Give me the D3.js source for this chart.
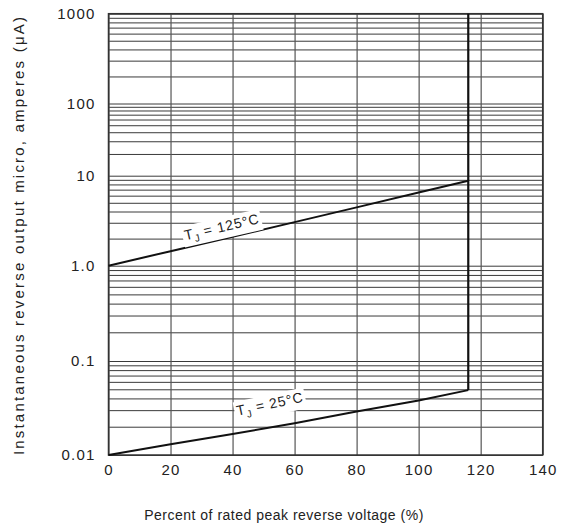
<!DOCTYPE html>
<html>
<head>
<meta charset="utf-8">
<script src="https://cdn.jsdelivr.net/npm/d3@7"></script>
<style>
  body { margin: 0; background: #fff; }
  text { font-family: "Liberation Sans", Arial, sans-serif; fill: #222; }
</style>
</head>
<body>
<svg id="chart" width="562" height="529"></svg>
<script>
// chart values
const xTicks = [0, 20, 40, 60, 80, 100, 120, 140];
const yDecades = [0.01, 0.1, 1, 10, 100, 1000];
const yLabels = ['0.01', '0.1', '1.0', '10', '100', '1000'];

const pct125 = [0, 20, 40, 60, 80, 100, 116];
const ir125 = [1.0, 1.45, 2.1, 3.05, 4.45, 6.5, 8.8];
const pct25 = [0, 20, 40, 60, 80, 100, 116];
const ir25 = [0.01, 0.013, 0.0167, 0.0218, 0.029, 0.038, 0.049];
const breakdownPct = 116;

const curveLabels = [
  { temp: '125°C', x: 36.5, y: 2.7, angle: -13 },
  { temp: '25°C', x: 52, y: 0.035, angle: -12 }
];

const svg = d3.select('#chart');
const margin = { left: 108.5, top: 13.7, right: 19.3, bottom: 74 },
  width = 562, height = 529;
const plotBottom = height - margin.bottom;

const xScale = d3.scaleLinear()
  .domain([0, 140])
  .range([margin.left, width - margin.right]);

// the scanned sheet has uneven decades, so the log scale is piecewise
const yScale = d3.scaleLog()
  .domain(yDecades)
  .range([plotBottom, 361, 265.7, 175.7, 103.5, margin.top]);

// every 1..9 step inside each decade gets a grid line
const minorTicks = [];
yDecades.slice(0, -1).forEach(d => {
  for (let k = 1; k < 10; k++) minorTicks.push(k * d);
});
minorTicks.push(1000);

// horizontal grid + y labels
const yAxis = svg.append('g')
  .attr('transform', `translate(${margin.left},0)`)
  .call(d3.axisLeft(yScale)
    .tickValues(minorTicks)
    .tickSize(-(xScale(140) - margin.left))
    .tickPadding(13)
    .tickFormat(d => {
      const i = yDecades.findIndex(v => Math.abs(v - d) < d * 1e-6);
      return i >= 0 ? yLabels[i] : '';
    }));
yAxis.select('.domain').remove();
yAxis.selectAll('.tick line').attr('stroke', '#3a3a3a').attr('stroke-width', 1);
yAxis.selectAll('.tick text')
  .attr('font-size', 15).attr('letter-spacing', 1.2).attr('fill', '#222');

// vertical grid + x labels
const xAxis = svg.append('g')
  .attr('transform', `translate(0,${plotBottom})`)
  .call(d3.axisBottom(xScale)
    .tickValues(xTicks)
    .tickSize(-(plotBottom - margin.top))
    .tickPadding(9));
xAxis.select('.domain').remove();
xAxis.selectAll('.tick line').attr('stroke', '#555').attr('stroke-width', 1.2);
xAxis.selectAll('.tick text')
  .attr('font-size', 15).attr('letter-spacing', 1.2).attr('fill', '#222');

// frame
svg.append('rect')
  .attr('x', margin.left).attr('y', margin.top)
  .attr('width', xScale(140) - margin.left)
  .attr('height', plotBottom - margin.top)
  .attr('fill', 'none').attr('stroke', '#333').attr('stroke-width', 1.5);

// curves
const line = d3.line()
  .x(d => xScale(d[0]))
  .y(d => yScale(d[1]));

svg.append('path')
  .attr('d', line(d3.zip(pct125, ir125)))
  .attr('fill', 'none').attr('stroke', '#111').attr('stroke-width', 2);

svg.append('path')
  .attr('d', line(d3.zip(pct25, ir25)))
  .attr('fill', 'none').attr('stroke', '#111').attr('stroke-width', 2);

// breakdown: vertical rise at the end of the rated range
svg.append('path')
  .attr('d', line([[breakdownPct, ir25[ir25.length - 1]], [breakdownPct, 1000]]))
  .attr('fill', 'none').attr('stroke', '#111').attr('stroke-width', 2.2);

// curve labels with white knock-out behind them
curveLabels.forEach(l => {
  const g = svg.append('g')
    .attr('transform', `translate(${xScale(l.x)},${yScale(l.y)}) rotate(${l.angle})`);
  const bg = g.append('rect').attr('fill', '#fff');
  const t = g.append('text')
    .attr('text-anchor', 'middle')
    .attr('dy', '0.35em')
    .attr('font-size', 14)
    .attr('letter-spacing', 0.8);
  t.append('tspan').text('T');
  t.append('tspan').attr('font-size', 10).attr('dy', 4).text('J');
  t.append('tspan').attr('dy', -4).text(' = ' + l.temp);
  const b = t.node().getBBox();
  bg.attr('x', b.x - 2).attr('y', b.y - 1)
    .attr('width', b.width + 4).attr('height', b.height + 2);
});

// axis titles
svg.append('text')
  .attr('x', 284)
  .attr('y', 520)
  .attr('text-anchor', 'middle')
  .attr('font-size', 14)
  .attr('letter-spacing', 0.5)
  .text('Percent of rated peak reverse voltage (%)');

svg.append('text')
  .attr('transform', `translate(24,235) rotate(-90)`)
  .attr('text-anchor', 'middle')
  .attr('font-size', 15)
  .attr('letter-spacing', 2.2)
  .text('Instantaneous reverse output micro, amperes (μA)');
</script>
</body>
</html>
